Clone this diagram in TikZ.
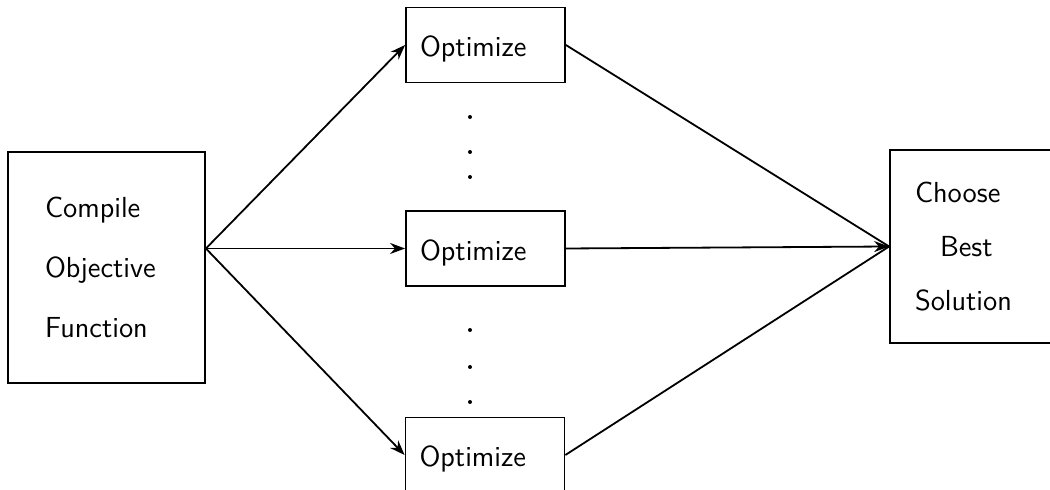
\documentclass[tikz,border=0pt]{standalone}
\usepackage{tikz}
\usetikzlibrary{arrows.meta}

\begin{document}
\begin{tikzpicture}[x=0.5pt, y=-0.5pt,
        box/.style={draw, line width=0.9pt, align=left, font=\sffamily\fontsize{14.5}{30}\selectfont},
        optbox/.style={box, text width=65.5pt, text height=15pt, text depth=3pt, inner xsep=7pt, inner ysep=0pt, minimum height=37.5pt},
        flow/.style={line width=0.9pt},
        tip/.style={flow, -{Stealth[length=7.5pt, width=5.5pt]}}]
        \useasboundingbox (0, 0) rectangle (1050, 490);
        \node[box, text width=61.5pt, inner xsep=18.5pt, minimum height=115.5pt] (compile) at (106.5, 267.5) {Compile\\Objective\\Function};
        \node[optbox] (opt1) at (485.5, 45) {Optimize};
        \node[optbox] (opt2) at (485.5, 248.5) {Optimize};
        \node[optbox] (opt3) at (485, 455) {Optimize};
        \node[box, text width=72.5pt, inner xsep=12.5pt, minimum height=96.5pt, font=\sffamily\fontsize{14.5}{27}\selectfont] (choose) at (987.5, 246.5) {Choose\\\hspace*{12.5pt}Best\\Solution};
        \coordinate (fork) at (compile.east |- opt2.west);
        \draw[tip] (fork) -- (opt1.west);
        \draw[tip] (fork) -- (opt2.west);
        \draw[tip] (fork) -- (opt3.west);
        \draw[flow] (opt1.east) -- (choose.west);
        \draw[tip] (opt2.east) -- (choose.west);
        \draw[flow] (opt3.east) -- (choose.west);
        % vertical dots
        \foreach \y in {117, 152, 177, 330, 367, 402}
            \fill (470, \y) circle (1pt);
    \end{tikzpicture}
\end{document}
